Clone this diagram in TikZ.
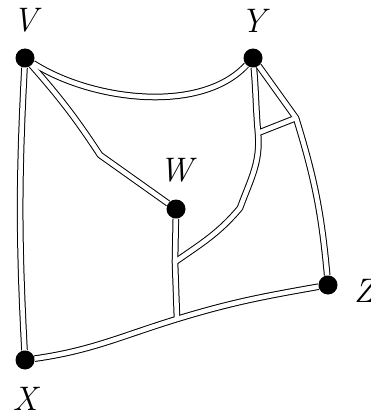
\documentclass[tikz,border=0pt]{standalone}
\usepackage{fontspec}
\usetikzlibrary{positioning}

\begin{document}
\begin{tikzpicture}[x=1pt, y=-1pt,
        node distance=17pt,
        dot/.style={circle, fill=black, inner sep=0pt, minimum size=19pt},
        lab/.style={inner sep=0pt, font=\fontsize{34}{36}\selectfont\itshape},
        rim/.style={line width=6.6pt, black, line join=round},
        core/.style={line width=4.6pt, white, line join=round}
    ]
        \useasboundingbox (0,0) rectangle (371,412);

        \node[dot] (V) at (25,58) {};
        \node[dot] (Y) at (253,58) {};
        \node[dot] (W) at (176,209) {};
        \node[dot] (Z) at (328,285) {};
        \node[dot] (X) at (25,360) {};

        % junctions where the strips meet
        \coordinate (j1) at (175,262);
        \coordinate (j2) at (177,319);
        \coordinate (j3) at (258,133);
        \coordinate (j4) at (296,118);

        % black rims first, white cores on top
        \foreach \pass in {rim,core} {
            \draw[\pass] (V) to[bend right=3] (X);
            \draw[\pass] (V) .. controls (90,100) and (200,115) .. (Y);
            \draw[\pass] (V) to[bend left=4] (100,155) -- (W);
            \draw[\pass] (W) -- (j1) -- (j2);
            \draw[\pass] (Y) to[out=-85,in=95] (j3) to[out=-85,in=70] (240,208)
                to[out=-130,in=35] (j1);
            \draw[\pass] (Y) -- (j4) to[bend left=6] (Z);
            \draw[\pass] (j3) -- (j4);
            \draw[\pass] (X) to[out=8,in=197] (j2) to[out=17,in=190] (Z);
        }

        \node[lab, above=16pt of V] (lV) {V};
        \node[lab, above=16pt of Y] (lY) {Y};
        \node[lab, above=of W] (lW) {W};
        \node[lab, right=16pt of Z, yshift=-6pt] (lZ) {Z};
        \node[lab, below=of X] (lX) {X};
    \end{tikzpicture}
\end{document}
